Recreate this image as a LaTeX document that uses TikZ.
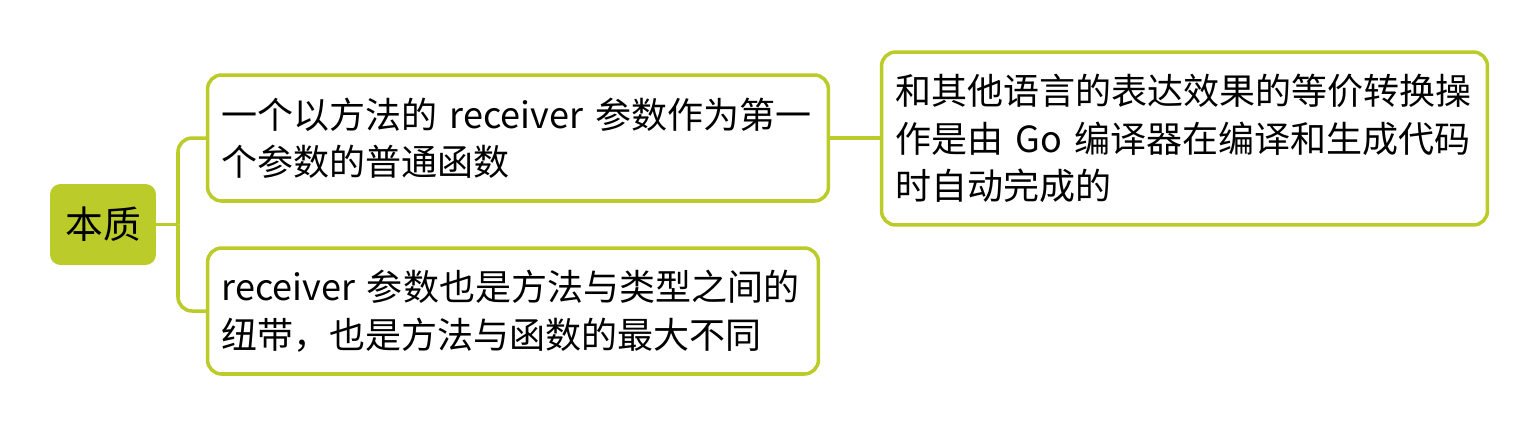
\documentclass[tikz,border=0pt]{standalone}
\usepackage{fontspec}
\setmainfont{Noto Sans CJK SC}
\usepackage{tikz}
\usetikzlibrary{positioning,calc}
\definecolor{limecolor}{RGB}{187,203,42}
\tikzset{
  rootbox/.style={fill=limecolor, rounded corners=6pt, minimum width=2.12cm, minimum height=1.62cm,
    inner sep=0pt, font=\fontsize{21.5}{26}\selectfont},
  topicbox/.style={draw=limecolor, line width=2pt, rounded corners=8pt, fill=white,
    align=left, inner xsep=0.28cm, inner ysep=0pt, font=\fontsize{20.5}{27}\selectfont},
  branchln/.style={draw=limecolor, line width=2pt},
}

\begin{document}
\begin{tikzpicture}[x=0.02cm, y=-0.02cm]
    \useasboundingbox (0,0) rectangle (1538,424);
    % central topic
    \node[rootbox] (root) at (103,224.5) {本质};
    % subtopics
    \node[topicbox, text width=11.86cm, minimum height=2.52cm] (recv) at (518,138)
      {一个以方法的 receiver 参数作为第一\\个参数的普通函数};
    \node[topicbox, text width=11.66cm, minimum height=2.52cm] (bond) at (513,311)
      {receiver 参数也是方法与类型之间的\\纽带，也是方法与函数的最大不同};
    \node[topicbox, text width=11.56cm, minimum height=3.46cm] (conv) at (1184.5,138.5)
      {和其他语言的表达效果的等价转换操\\作是由 Go 编译器在编译和生成代码\\时自动完成的};
    % connectors
    \coordinate (trunk) at (178,224.5);
    \draw[branchln] (root.east) -- (trunk);
    \draw[branchln, rounded corners=8pt] (trunk) |- (recv.west);
    \draw[branchln, rounded corners=8pt] (trunk) |- (bond.west);
    \draw[branchln] (recv.east) -- (conv.west |- recv.east);
  \end{tikzpicture}
\end{document}
